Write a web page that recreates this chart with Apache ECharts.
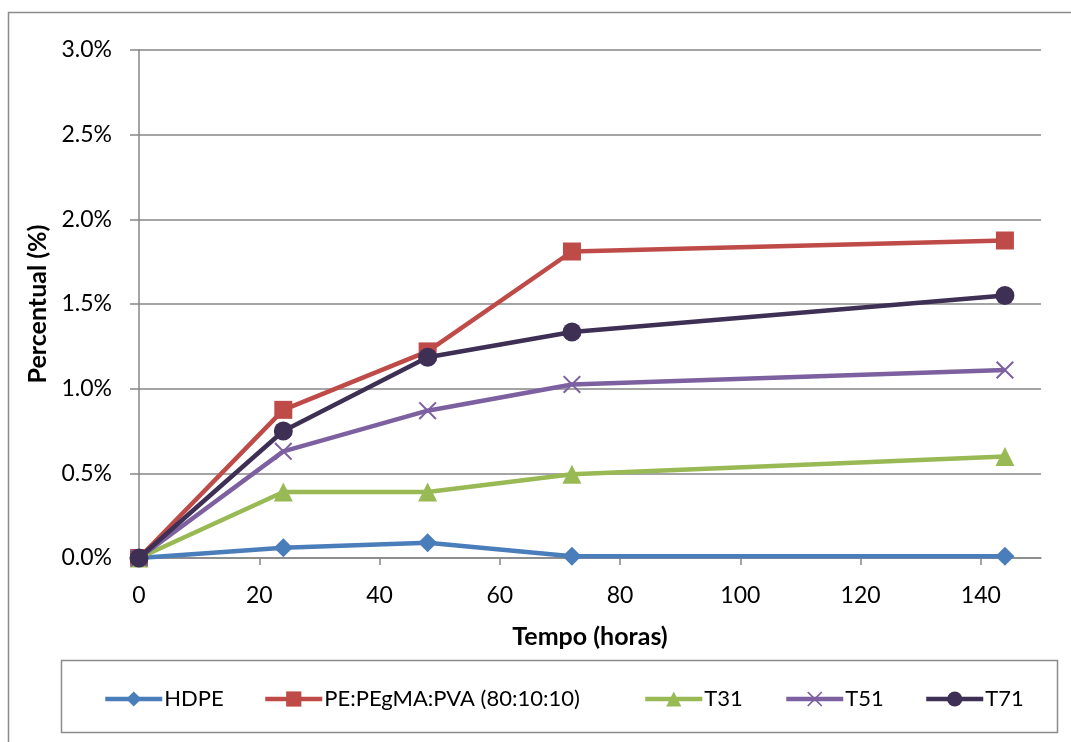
<!DOCTYPE html>
<html>
<head>
<meta charset="utf-8">
<script src="https://cdn.jsdelivr.net/npm/echarts@6/dist/echarts.min.js"></script>
<style>
  html, body { margin: 0; padding: 0; background: #ffffff; }
  #chart { width: 1071px; height: 742px; }
</style>
</head>
<body>
<div id="chart"></div>
<script>
// Sampling times (hours)
const hours = [0, 24, 48, 72, 144];
const xTicks = [0, 20, 40, 60, 80, 100, 120, 140];

// Percentual (%) at each sampling time
const hdpe = [0, 0.06, 0.09, 0.01, 0.01];
const pePegmaPva = [0, 0.875, 1.22, 1.81, 1.875];
const t31 = [0, 0.39, 0.39, 0.495, 0.6];
const t51 = [0, 0.63, 0.87, 1.025, 1.11];
const t71 = [0, 0.75, 1.185, 1.335, 1.55];

const seriesNames = ['HDPE', 'PE:PEgMA:PVA (80:10:10)', 'T31', 'T51', 'T71'];
const seriesData = [hdpe, pePegmaPva, t31, t51, t71];

const colors = ['#4a7ebb', '#be4b48', '#98b954', '#7d60a0', '#3e2f55'];
const crossPath = 'path://M0,8L8,0L50,42L92,0L100,8L58,50L100,92L92,100L50,58L8,100L0,92L42,50Z';
const symbols = ['diamond', 'rect', 'triangle', crossPath, 'circle'];
const symbolSizes = [19, 18, 19, 18, 19];

// Left edge of each legend entry inside the legend box
const legendLefts = [103, 263, 643, 784, 924];

const FONT = 'Lato';

const chart = echarts.init(document.getElementById('chart'), null, { renderer: 'canvas' });

const series = seriesNames.map((name, i) => ({
  name: name,
  type: 'line',
  data: hours.map((h, j) => [h, seriesData[i][j]]),
  symbol: symbols[i],
  symbolSize: symbolSizes[i],
  showAllSymbol: true,
  lineStyle: { color: colors[i], width: 4.5 },
  itemStyle: { color: colors[i], borderWidth: 0 },
  emphasis: { disabled: true },
  animation: false,
  z: 2 + i
}));

const legends = seriesNames.map((name, i) => ({
  data: [name],
  left: legendLefts[i],
  top: 688,
  padding: 0,
  itemWidth: 57,
  itemHeight: 19,
  selectedMode: false,
  lineStyle: { width: 4.5 },
  textStyle: { fontFamily: FONT, fontSize: 22, color: '#000000', padding: [0, 0, 0, -3] }
}));

chart.setOption({
  backgroundColor: '#ffffff',
  animation: false,
  textStyle: { fontFamily: FONT },
  grid: { left: 139, right: 30, top: 50, bottom: 184, containLabel: false },
  graphic: [
    {
      type: 'rect', silent: true, z: -10,
      shape: { x: 8.5, y: 12.5, width: 1100, height: 800 },
      style: { fill: 'none', stroke: '#8c8c8c', lineWidth: 1.5 }
    },
    {
      type: 'rect', silent: true, z: -10,
      shape: { x: 61.5, y: 660.5, width: 996, height: 72 },
      style: { fill: '#ffffff', stroke: '#8c8c8c', lineWidth: 1.5 }
    }
  ],
  legend: legends,
  xAxis: {
    type: 'value',
    min: 0,
    max: 150,
    interval: 20,
    name: 'Tempo (horas)',
    nameLocation: 'middle',
    nameGap: 66,
    nameTextStyle: { fontFamily: FONT, fontSize: 25, fontWeight: 'bold', color: '#000000' },
    axisLine: { show: true, onZero: false, lineStyle: { color: '#868686', width: 1.5 } },
    axisTick: { show: true, length: 7, customValues: xTicks, lineStyle: { color: '#868686', width: 1.5 } },
    axisLabel: { customValues: xTicks, fontFamily: FONT, fontSize: 23, color: '#000000', margin: 26 },
    splitLine: { show: false }
  },
  yAxis: {
    type: 'value',
    min: 0,
    max: 3,
    interval: 0.5,
    name: 'Percentual (%)',
    nameLocation: 'middle',
    nameGap: 89,
    nameRotate: 90,
    nameTextStyle: { fontFamily: FONT, fontSize: 25, fontWeight: 'bold', color: '#000000' },
    axisLine: { show: true, lineStyle: { color: '#868686', width: 1.5 } },
    axisTick: { show: true, length: 9, lineStyle: { color: '#868686', width: 1.5 } },
    axisLabel: {
      fontFamily: FONT, fontSize: 23, color: '#000000', margin: 27,
      formatter: v => v.toFixed(1) + '%'
    },
    splitLine: { show: true, lineStyle: { color: '#868686', width: 1.5 } }
  },
  series: series
});
</script>
</body>
</html>
